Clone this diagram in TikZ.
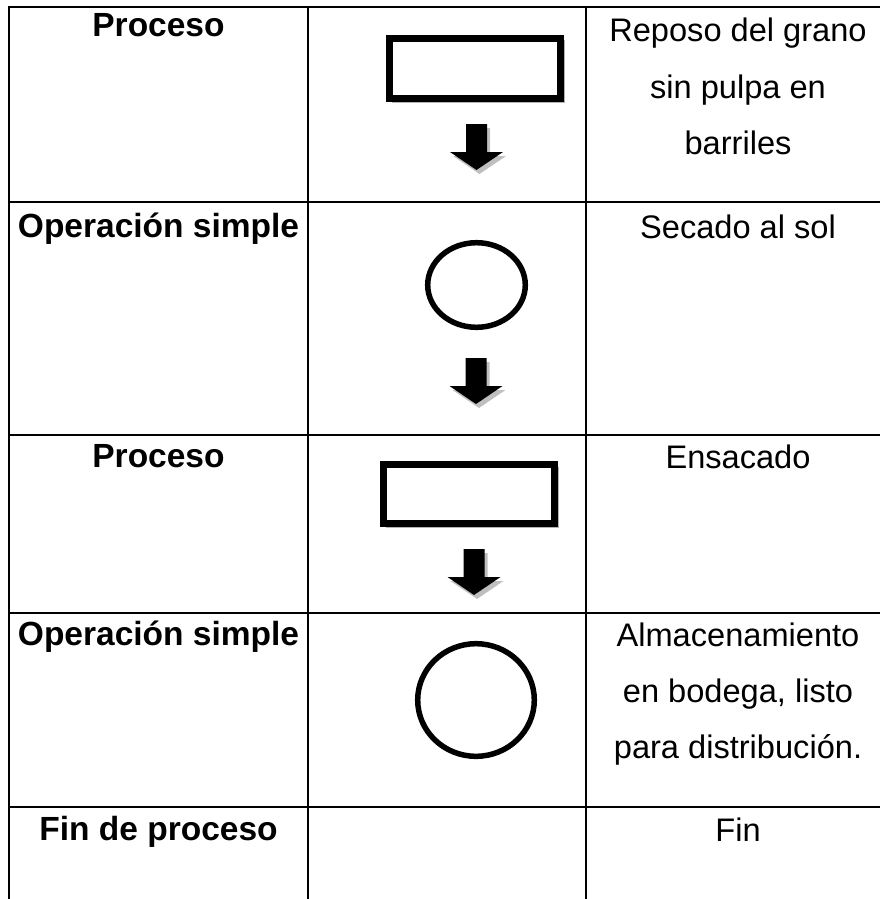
\documentclass[tikz,border=0pt]{standalone}
\usepackage{fontspec}
\setmainfont{Liberation Sans}
\begin{document}
\begin{tikzpicture}[x=1pt,y=-1pt,
  grid/.style={line width=2.8pt, line cap=rect},
  txt/.style={anchor=base, inner sep=0pt, font=\fontsize{32.6}{56}\selectfont},
  btxt/.style={txt, font=\fontsize{33.5}{56}\selectfont\bfseries},
  procbox/.style={line width=7pt},
  opcircle/.style={line width=5.5pt},
  blockarrow/.style={fill=black},
  arrowshadow/.style={fill=black!25}]
\useasboundingbox (0,0) rectangle (880,899);
% table lines
\draw[grid] (9,7) -- (880,7);
\draw[grid] (9,202) -- (880,202);
\draw[grid] (9,435) -- (880,435);
\draw[grid] (9,613) -- (880,613);
\draw[grid] (9,807) -- (880,807);
\draw[grid] (9,7) -- (9,899);
\draw[grid] (308,7) -- (308,899);
\draw[grid] (586,7) -- (586,899);
% column 1
\node[btxt] (p1) at (158.5,37) {Proceso};
\node[btxt] (o1) at (158.5,237) {Operación simple};
\node[btxt] (p2) at (158.5,467) {Proceso};
\node[btxt] (o2) at (158.5,645) {Operación simple};
\node[btxt] (f1) at (158.5,840) {Fin de proceso};
% column 3
\node[txt] (d1a) at (738,42) {Reposo del grano};
\node[txt] (d1b) at (738,98) {sin pulpa en};
\node[txt] (d1c) at (738,154) {barriles};
\node[txt] (d2) at (738,238) {Secado al sol};
\node[txt] (d3) at (738,468) {Ensacado};
\node[txt] (d4a) at (738,646) {Almacenamiento};
\node[txt] (d4b) at (738,702) {en bodega, listo};
\node[txt] (d4c) at (738,758) {para distribución.};
\node[txt] (d5) at (738,841) {Fin};
% symbols
\draw[black!30,line width=2pt] (392,101.5) -- (564,101.5) -- (564,40);
\draw[procbox] (389.5,38.5) rectangle (560.5,98.5);
\draw[black!30,line width=2pt] (386,526.5) -- (558,526.5) -- (558,467);
\draw[procbox] (383.5,464.5) rectangle (554.5,523.5);
\draw[opcircle] (476.5,285) ellipse [x radius=48.8, y radius=42.3];
\draw[opcircle] (476,700) ellipse [x radius=58.3, y radius=56.3];
% block arrows
\foreach \cx/\ty in {476.5/124, 476/358, 474/549}{
  \fill[arrowshadow] (\cx-10.5+3,\ty+4) -- (\cx+10.5+3,\ty+4) -- (\cx+10.5+3,\ty+28+4) -- (\cx+26.5+3,\ty+28+4) -- (\cx+3,\ty+46+4) -- (\cx-26.5+3,\ty+28+4) -- (\cx-10.5+3,\ty+28+4) -- cycle;
  \fill[blockarrow] (\cx-10.5,\ty) -- (\cx+10.5,\ty) -- (\cx+10.5,\ty+28) -- (\cx+26.5,\ty+28) -- (\cx,\ty+46) -- (\cx-26.5,\ty+28) -- (\cx-10.5,\ty+28) -- cycle;
}
\end{tikzpicture}
\end{document}
